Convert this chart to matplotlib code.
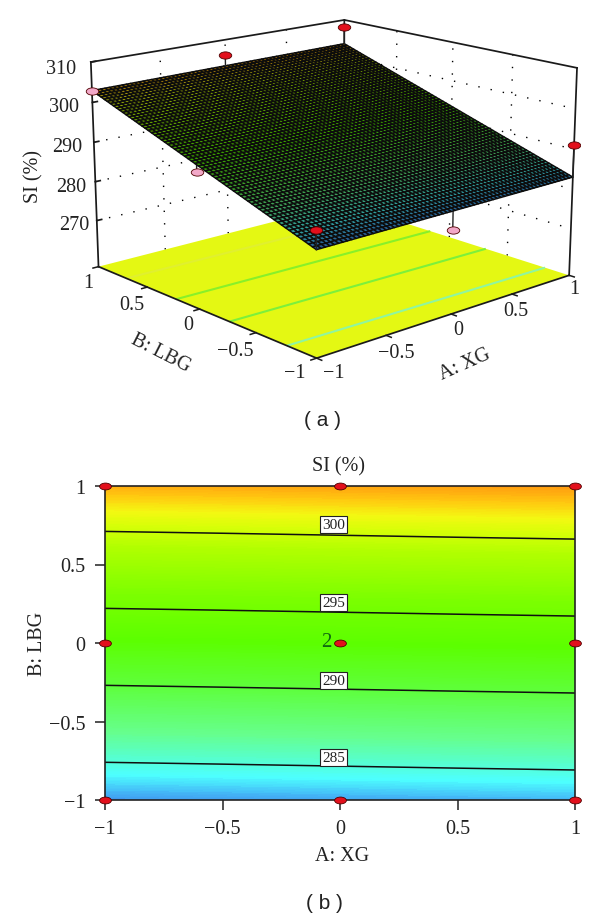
import numpy as np
import matplotlib
matplotlib.use('Agg')
import matplotlib.pyplot as plt
from matplotlib.colors import LinearSegmentedColormap, Normalize
from matplotlib.path import Path

plt.rcParams['font.family'] = ['Liberation Serif', 'DejaVu Serif']

# coded factor levels and SI (%)
A_levels = [-1, -0.5, 0, 0.5, 1]
B_levels = [-1, -0.5, 0, 0.5, 1]
SI_table = [
    [282.55, 282.67, 282.80, 282.93, 283.05],
    [287.65, 287.77, 287.90, 288.03, 288.15],
    [292.75, 292.87, 293.00, 293.13, 293.25],
    [297.85, 297.97, 298.10, 298.23, 298.35],
    [302.95, 303.07, 303.20, 303.33, 303.45],
]
contour_levels = [285, 290, 295, 300]
contour_label_y = [-0.795, -0.305, 0.19, 0.685]
floor_line_colors = ['#8ff5a0', '#7cf03c', '#88f02a', '#e0f030']

# design points seen in the 3D plot: A, B, SI
above_A = [1, 0, 1, -1]
above_B = [1, 1, -1, -1]
above_SI = [308, 306, 291, 287]
above_fit = [303.45, 303.2, 283.05, 282.55]
below_A = [-1, -1, 0]
below_B = [1, 0, -1]
below_SI = [302.9, 291, 278.4]
below_fit = [302.95, 292.75, 282.8]

# design points of the contour plot
design_A = [-1, 0, 1, -1, 0, 1, -1, 0, 1]
design_B = [1, 1, 1, 0, 0, 0, -1, -1, -1]

ticks_ab = [-1, -0.5, 0, 0.5, 1]
ticks_ab_txt = ['\u22121', '\u22120.5', '0', '0.5', '1']
ticks_z = [270, 280, 290, 300, 310]

stops_z = [282.5, 283.2, 284.2, 285.5, 287, 290, 293, 296, 299, 300.5, 301.4, 302.4, 303.5]
stops_c = ['#3f93ee', '#45bff8', '#4dffff', '#58ffc8', '#66ff8c', '#5eff3c', '#5cff00',
           '#7cff00', '#b0ff00', '#d8ff08', '#f4f812', '#ffc810', '#ff9a10']
z_lo, z_hi = stops_z[0], stops_z[-1]
cmap = LinearSegmentedColormap.from_list(
    'si', [((z - z_lo) / (z_hi - z_lo), c) for z, c in zip(stops_z, stops_c)])
norm = Normalize(z_lo, z_hi)

A = np.array(A_levels)
B = np.array(B_levels)
SI = np.array(SI_table)

fig = plt.figure(figsize=(6, 9.2), dpi=100)


def label(x, y, s, **kw):
    # place text by pixel position
    kw.setdefault('fontsize', 14.5)
    kw.setdefault('color', '#222222')
    fig.text(x / 600, 1 - y / 920, s, ha='center', va='center', **kw)


# ---- (a) response surface ----
W = 509.2
ax = fig.add_axes([70.6 / 600, 487.9 / 920, W / 600, W / 920], projection='3d', computed_zorder=False)
z_floor = 258
z_top = 310
ax.set_xlim(-1, 1, view_margin=0)
ax.set_ylim(-1, 1, view_margin=0)
ax.set_zlim(z_floor, z_top, view_margin=0)
ax.view_init(15.5, -131.73)
ax.set_proj_type('persp', focal_length=0.638)
ax.set_box_aspect((1, 1, 0.631))
ax.set_axis_off()

dot = (0, (1, 8))
for z in ticks_z[:-1]:
    ax.plot([-1, 1], [1, 1], [z, z], color='k', lw=1.0, ls=dot, zorder=1)
    ax.plot([1, 1], [1, -1], [z, z], color='k', lw=1.0, ls=dot, zorder=1)
for v in ticks_ab[1:-1]:
    ax.plot([v, v], [1, 1], [z_floor, z_top], color='k', lw=1.0, ls=dot, zorder=1)
    ax.plot([1, 1], [v, v], [z_floor, z_top], color='k', lw=1.0, ls=dot, zorder=1)

edge = dict(color='#1a1a1a', lw=1.25, zorder=2)
ax.plot([-1, 1, 1], [1, 1, -1], [z_top, z_top, z_top], **edge)
ax.plot([-1, -1], [1, 1], [z_floor, z_top], **edge)
ax.plot([1, 1], [-1, -1], [z_floor, z_top], **edge)
ax.plot([1, 1], [1, 1], [z_floor, z_top], **edge)
for z in ticks_z:
    ax.plot([-1, -0.965], [1, 1], [z, z], **edge)

AA, BB = np.meshgrid(A, B)
ax.plot_surface(AA[[0, -1]][:, [0, -1]], BB[[0, -1]][:, [0, -1]], np.full((2, 2), z_floor),
                color='#e4f813', shade=False, linewidth=0, zorder=3)
ax.contour(AA, BB, SI, levels=contour_levels, zdir='z', offset=z_floor,
           colors=floor_line_colors, linewidths=1.5, zorder=4)
ax.plot([1, -1, -1], [-1, -1, 1], [z_floor] * 3, color='#1a1a1a', lw=1.25, zorder=4)

for v in ticks_ab:
    ax.plot([v, v], [-1, -1.04], [z_floor, z_floor], color='#1a1a1a', lw=1.1, zorder=4)
    ax.plot([-1, -1.04], [v, v], [z_floor, z_floor], color='#1a1a1a', lw=1.1, zorder=4)

# fine mesh only to give the fitted plane its wire texture
n = 66
mesh_a = np.linspace(-1, 1, n)
mesh_b = np.linspace(-1, 1, n)
MA, MB = np.meshgrid(mesh_a, mesh_b)
u = (MA + 1) / 2
v_ = (MB + 1) / 2
MZ = (SI[0, 0] * (1 - u) * (1 - v_) + SI[0, -1] * u * (1 - v_)
      + SI[-1, 0] * (1 - u) * v_ + SI[-1, -1] * u * v_)
faces = cmap(norm(MZ))
faces[..., :3] *= 0.62
ax.plot_surface(MA, MB, MZ, facecolors=faces, edgecolor='#0c0c0c', linewidth=1.05,
                rstride=1, cstride=1, shade=False, antialiased=True, zorder=5)

ell = Path(Path.unit_circle().vertices * [1, 0.58], Path.unit_circle().codes)
for i in range(len(above_A)):
    ax.plot([above_A[i]] * 2, [above_B[i]] * 2, [above_fit[i], above_SI[i]], color='#222222', lw=1, zorder=6)
for i in range(len(below_A)):
    ax.plot([below_A[i]] * 2, [below_B[i]] * 2, [below_fit[i], below_SI[i]], color='#222222', lw=1, zorder=2)
ax.plot(above_A, above_B, above_SI, ls='none', marker=ell, ms=9, mfc='#e2101c', mec='#500000', mew=0.6, zorder=7)
ax.plot(below_A, below_B, below_SI, ls='none', marker=ell, ms=9, mfc='#f2a8c8', mec='#500000', mew=0.6, zorder=7)

for x, y, s in zip([61.5, 64, 67, 71, 74], [69, 108, 147, 187, 226], ticks_z[::-1]):
    label(x, y, str(s))
for x, y, s in zip([295, 235, 188, 132, 88], [373, 351, 326, 306, 283], ticks_ab_txt):
    label(x, y, s)
for x, y, s in zip([334, 396, 458, 516, 574], [374, 354, 331, 312, 290], ticks_ab_txt):
    label(x, y, s)
label(34, 177, 'SI (%)', rotation=90)
label(161, 354, 'B: LBG', rotation=-27)
label(465, 365, 'A: XG', rotation=24)
label(323, 421, '( a )', family='Liberation Sans', fontsize=15)

# ---- (b) contour plot ----
bx = fig.add_axes([105 / 600, 1 - 801 / 920, 470 / 600, 314 / 920])
bx.contourf(A, B, SI, levels=np.arange(z_lo, z_hi + 0.1, 0.1), cmap=cmap, norm=norm, extend='both')
bx.contour(A, B, SI, levels=contour_levels, colors='#101010', linewidths=1.1)
bx.set_xlim(-1, 1)
bx.set_ylim(-1, 1)
bx.set_xticks(ticks_ab, ticks_ab_txt)
bx.set_yticks(ticks_ab, ticks_ab_txt)
bx.tick_params(length=7, width=1.1, pad=7, labelsize=14.5, color='#222222', labelcolor='#222222')
for sp in bx.spines.values():
    sp.set_linewidth(1.2)
    sp.set_color('#222222')

for lev, y in zip(contour_levels, contour_label_y):
    bx.annotate(str(lev), xy=(0, y), xytext=(-4.5, 3), textcoords='offset points', ha='center', va='bottom',
                fontsize=11, color='#222222',
                bbox=dict(boxstyle='square,pad=0.14', fc='white', ec='#222222', lw=0.8))

bx.plot(design_A, design_B, ls='none', marker=ell, ms=8.5, mfc='#e2101c', mec='#500000', mew=0.6,
        clip_on=False, zorder=6)
bx.annotate('2', xy=(0, 0), xytext=(-10, 1), textcoords='offset points', ha='center', va='center',
            fontsize=15, color='#106a10')

label(338, 467, 'SI (%)')
label(37, 644, 'B: LBG', rotation=90)
label(342, 857, 'A: XG')
label(324, 904, '( b )', family='Liberation Sans', fontsize=15)

fig.savefig('out.png', dpi=100)
